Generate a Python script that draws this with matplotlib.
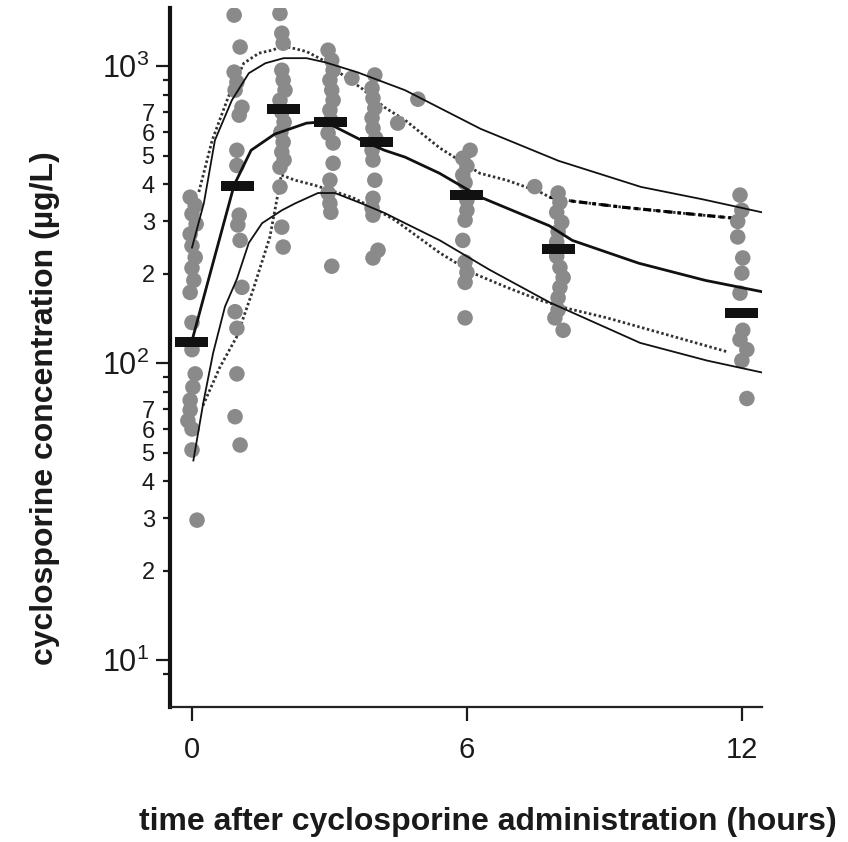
import numpy as np
import matplotlib.pyplot as plt

plt.rcParams['font.family'] = 'Liberation Sans'
plt.rcParams['mathtext.fontset'] = 'custom'
plt.rcParams['mathtext.rm'] = 'Liberation Sans'

# observed concentrations, grouped by sampling time (x = time incl. jitter)
t_h0 = [-0.04, 0.07, 0.0, 0.09, -0.04, 0.0, 0.07, 0.0, 0.04, -0.04,
        0.0, 0.0, 0.07, 0.02, -0.04, -0.04, -0.09, 0.0, 0.0, 0.11]
c_h0 = [362, 340, 318, 294, 272, 248, 227, 209, 190, 173,
        137, 111, 92, 83, 75, 69.5, 64, 60, 51, 29.6]

t_h1 = [0.92, 1.05, 0.92, 0.98, 0.94, 1.09, 1.03, 0.98, 0.98,
        1.03, 1.0, 1.05, 1.09, 0.94, 0.98, 0.98, 0.94, 1.05]
c_h1 = [1486, 1160, 955, 883, 830, 727, 684, 521, 463,
        315, 292, 259, 180, 149, 131, 92, 66, 53]

t_h2 = [1.92, 1.96, 1.99, 1.96, 1.99, 2.03, 1.92, 1.96, 2.01,
        1.94, 1.99, 1.96, 2.01, 1.92, 1.92, 1.96, 1.99]
c_h2 = [1505, 1291, 1195, 969, 897, 830, 768, 700, 648,
        600, 555, 514, 483, 457, 392, 287, 246]

t_h3 = [2.97, 3.05, 3.08, 3.01, 3.05, 3.08, 3.01, 3.03, 2.97, 3.08,
        3.08, 3.01, 2.97, 3.01, 3.03, 3.05]
c_h3 = [1132, 1047, 969, 897, 830, 768, 711, 658, 595, 551,
        471, 413, 374, 345, 322, 212]

t_h4 = [3.99, 3.93, 3.95, 3.99, 3.93, 3.95, 4.01, 3.93, 3.95, 3.99,
        3.95, 3.93, 3.95, 4.06, 3.95]
c_h4 = [934, 843, 780, 722, 669, 618, 572, 521, 483, 413,
        359, 333, 315, 240, 226]

t_h6 = [6.07, 5.91, 6.0, 5.91, 5.96, 6.0, 6.0, 5.96, 5.91, 5.96, 6.0, 5.96, 5.96]
c_h6 = [521, 490, 461, 430, 405, 354, 327, 303, 259, 219, 202, 187, 142]

t_h8 = [7.99, 8.03, 7.96, 8.07, 7.99, 7.96, 7.96, 8.03, 8.1, 8.03, 7.99, 7.99, 7.92, 8.1]
c_h8 = [374, 348, 322, 298, 277, 256, 229, 210, 194, 180, 166, 151, 142, 129]

t_h12 = [11.96, 12.0, 11.91, 11.91, 12.02, 12.0, 11.96, 12.02, 11.96, 12.11, 12.0, 12.11]
c_h12 = [368, 327, 300, 266, 226, 201, 172, 129, 120, 111, 102, 76]

# off-schedule samples
t_extra = [3.49, 4.49, 4.93, 7.48]
c_extra = [911, 643, 774, 393]

# observed medians per sampling time
med_t = [0.0, 1.0, 1.99, 3.03, 4.03, 6.0, 8.0, 12.0]
med_c = [118, 395, 716, 648, 555, 368, 242, 148]

# model prediction: median and 90% interval
pred_t = [0, 0.45, 0.92, 1.29, 1.8, 2.5, 2.9, 3.3, 3.7, 4.2, 4.65, 5.4,
          6.3, 7.8, 8.3, 9.75, 11.2, 12.44]
pred_med = [119, 215, 398, 521, 590, 643, 650, 605, 563, 521, 494, 436,
            362, 290, 259, 217, 190, 174]

up_t = [0, 0.26, 0.5, 0.87, 1.24, 1.6, 2.0, 2.5, 2.9, 3.6, 4.65, 5.2,
        6.3, 8.0, 9.8, 11.15, 12.44]
up_c = [245, 346, 563, 768, 947, 1023, 1064, 1064, 1031, 955, 830, 751,
        615, 480, 392, 356, 322]

lo_t = [0.03, 0.25, 0.46, 0.72, 0.98, 1.24, 1.53, 1.96, 2.25, 2.75, 3.12,
        3.7, 4.21, 4.65, 5.41, 6.5, 7.81, 9.78, 11.24, 12.44]
lo_c = [47, 74, 108, 155, 192, 254, 296, 327, 345, 374, 374,
        345, 320, 296, 259, 206, 160, 117, 102, 93]

# observed percentiles
obs_up_t = [0.15, 0.44, 0.79, 1.13, 1.46, 1.75, 2.0, 2.5, 2.9, 3.35, 3.7,
            4.2, 4.65, 5.41, 6.28, 6.87, 7.59, 7.81, 8.31, 9.4, 10.5, 11.8]
obs_up_c = [377, 563, 786, 1023, 1106, 1132, 1170, 1120, 1040, 918, 843,
            727, 658, 530, 436, 413, 377, 362, 351, 335, 322, 308]

obs_lo_t = [0.24, 0.61, 0.98, 1.33, 1.70, 1.85, 1.95, 2.25, 2.68, 3.49,
            3.93, 4.43, 5.41, 6.13, 6.87, 7.59, 8.18, 9.06, 10.5, 11.7]
obs_lo_c = [72, 97, 123, 176, 266, 354, 430, 413, 397, 362,
            335, 303, 235, 201, 180, 163, 153, 142, 123, 109]

obs_t = t_h0 + t_h1 + t_h2 + t_h3 + t_h4 + t_h6 + t_h8 + t_h12 + t_extra
obs_c = c_h0 + c_h1 + c_h2 + c_h3 + c_h4 + c_h6 + c_h8 + c_h12 + c_extra

fig = plt.figure(figsize=(8.48, 8.42), dpi=100)
ax = fig.add_axes([170/848, 1 - 707/842, 592/848, 699/842])

dot = (0, (0.9, 0.9))
ax.plot(obs_up_t, obs_up_c, color='#333333', lw=2.0, linestyle=dot, zorder=1)
ax.plot(obs_lo_t, obs_lo_c, color='#333333', lw=2.0, linestyle=dot, zorder=1)
# last part of the upper percentile line is drawn darker
ax.plot(obs_up_t[17:], obs_up_c[17:], color='black', lw=2.3,
        linestyle=(0, (1.2, 1.5, 2.5, 1.5)), zorder=1.5)

ax.scatter(obs_t, obs_c, s=125, color='#8a8a8a', edgecolors='none', zorder=2)

ax.plot(up_t, up_c, color='#111111', lw=1.3, zorder=3)
ax.plot(lo_t, lo_c, color='#111111', lw=1.3, zorder=3)
ax.plot(pred_t, pred_med, color='#111111', lw=2.0, zorder=3)

ax.hlines(med_c, np.array(med_t) - 0.36, np.array(med_t) + 0.36,
          color='#111111', lw=7.2, zorder=4)

ax.set_yscale('log')
ax.set_xlim(-0.48, 12.44)
ax.set_ylim(6.95, 1570)

ax.set_xticks([0, 6, 12])
ax.set_xticklabels(['0', '6', '12'])
ax.set_yticks([10, 100, 1000])
ax.set_yticklabels([r'$\mathregular{10^{1}}$', r'$\mathregular{10^{2}}$',
                    r'$\mathregular{10^{3}}$'])
minor = [9, 20, 30, 40, 50, 60, 70, 80, 90, 200, 300, 400, 500, 600, 700, 800, 900]
minor_lab = ['', '2', '3', '4', '5', '6', '7', '', '', '2', '3', '4', '5', '6', '7', '', '']
ax.set_yticks(minor, minor=True)
ax.set_yticklabels(minor_lab, minor=True)

ax.tick_params(axis='y', which='major', length=10, width=1.6, labelsize=22,
               pad=5, colors='#1a1a1a')
ax.tick_params(axis='y', which='minor', length=5, width=1.6, labelsize=17,
               pad=6, colors='#1a1a1a')
ax.tick_params(axis='x', which='both', length=10, width=1.6, labelsize=21,
               pad=11, colors='#1a1a1a')

for s in ['top', 'right']:
    ax.spines[s].set_visible(False)
ax.spines['left'].set_linewidth(3)
ax.spines['left'].set_color('#111111')
ax.spines['bottom'].set_linewidth(1.6)
ax.spines['bottom'].set_color('#222222')

fig.text(488/848, 1 - 822/842, 'time after cyclosporine administration (hours)',
         ha='center', va='center', fontsize=23, fontweight='bold', color='#1a1a1a')
fig.text(45/848, 1 - 408/842, 'cyclosporine concentration (µg/L)',
         ha='center', va='center', rotation=90, fontsize=23, fontweight='bold',
         color='#1a1a1a')

fig.savefig('out.png', dpi=100)
